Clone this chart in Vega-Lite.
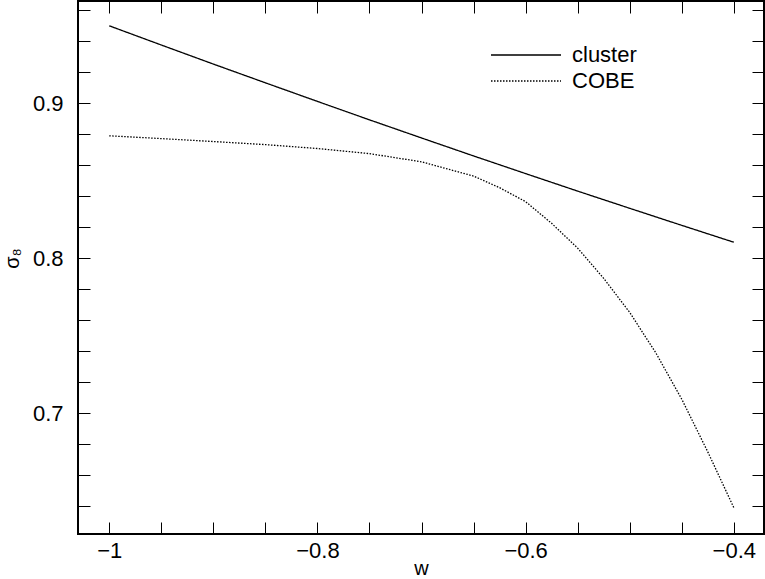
{
  "$schema": "https://vega.github.io/schema/vega-lite/v6.json",
  "width": 686,
  "height": 533,
  "autosize": "none",
  "padding": {"left": 78, "top": 1, "right": 1, "bottom": 45},
  "background": "white",
  "config": {
    "view": {"stroke": "black", "strokeWidth": 2},
    "font": "Liberation Sans",
    "axis": {
      "domain": false,
      "grid": false,
      "tickColor": "black",
      "tickWidth": 1,
      "labelColor": "black",
      "labelFontSize": 22,
      "labelFont": "Liberation Sans",
      "titleFont": "Liberation Sans",
      "titleFontSize": 20,
      "titleFontWeight": "normal",
      "titleColor": "black"
    }
  },
  "data": {
    "values": [
      {"w": -1.0, "s8": 0.950, "series": "cluster"},
      {"w": -0.95, "s8": 0.9376, "series": "cluster"},
      {"w": -0.9, "s8": 0.9253, "series": "cluster"},
      {"w": -0.85, "s8": 0.9132, "series": "cluster"},
      {"w": -0.8, "s8": 0.9012, "series": "cluster"},
      {"w": -0.75, "s8": 0.8893, "series": "cluster"},
      {"w": -0.7, "s8": 0.8776, "series": "cluster"},
      {"w": -0.65, "s8": 0.8660, "series": "cluster"},
      {"w": -0.6, "s8": 0.8546, "series": "cluster"},
      {"w": -0.55, "s8": 0.8433, "series": "cluster"},
      {"w": -0.5, "s8": 0.8322, "series": "cluster"},
      {"w": -0.45, "s8": 0.8212, "series": "cluster"},
      {"w": -0.4, "s8": 0.8103, "series": "cluster"},
      {"w": -1.0, "s8": 0.879, "series": "COBE"},
      {"w": -0.95, "s8": 0.8772, "series": "COBE"},
      {"w": -0.9, "s8": 0.8753, "series": "COBE"},
      {"w": -0.85, "s8": 0.8733, "series": "COBE"},
      {"w": -0.8, "s8": 0.8708, "series": "COBE"},
      {"w": -0.75, "s8": 0.8675, "series": "COBE"},
      {"w": -0.7, "s8": 0.8622, "series": "COBE"},
      {"w": -0.65, "s8": 0.8530, "series": "COBE"},
      {"w": -0.625, "s8": 0.8455, "series": "COBE"},
      {"w": -0.6, "s8": 0.8365, "series": "COBE"},
      {"w": -0.575, "s8": 0.8225, "series": "COBE"},
      {"w": -0.55, "s8": 0.8065, "series": "COBE"},
      {"w": -0.525, "s8": 0.7870, "series": "COBE"},
      {"w": -0.5, "s8": 0.7650, "series": "COBE"},
      {"w": -0.475, "s8": 0.7390, "series": "COBE"},
      {"w": -0.45, "s8": 0.7090, "series": "COBE"},
      {"w": -0.425, "s8": 0.6750, "series": "COBE"},
      {"w": -0.4, "s8": 0.6390, "series": "COBE"}
    ]
  },
  "layer": [
    {
      "mark": {"type": "line", "color": "black", "strokeWidth": 1.3},
      "encoding": {
        "x": {
          "field": "w",
          "type": "quantitative",
          "scale": {"domain": [-1.03, -0.371], "nice": false, "zero": false},
          "axis": {
            "orient": "bottom",
            "title": "w",
            "values": [-1, -0.95, -0.9, -0.85, -0.8, -0.75, -0.7, -0.65, -0.6, -0.55, -0.5, -0.45, -0.4],
            "format": ".1~f",
            "labelExpr": "abs(datum.value*5-round(datum.value*5))<1e-6 ? datum.label : ''",
            "tickSize": -12,
            "labelPadding": 18,
            "titlePadding": -3,
            "labelFlush": false,
            "labelOverlap": false,
            "encode": {"ticks": {"update": {"y2": {"signal": "abs(datum.value*5-round(datum.value*5))<1e-6 ? -12 : -5"}}}}
          }
        },
        "y": {
          "field": "s8",
          "type": "quantitative",
          "scale": {"domain": [0.622, 0.966], "nice": false, "zero": false},
          "axis": {
            "orient": "left",
            "title": "σ₈",
            "titleY": 257,
            "values": [0.64, 0.66, 0.68, 0.7, 0.72, 0.74, 0.76, 0.78, 0.8, 0.82, 0.84, 0.86, 0.88, 0.9, 0.92, 0.94, 0.96],
            "format": ".1f",
            "labelExpr": "abs(datum.value*10-round(datum.value*10))<1e-6 ? datum.label : ''",
            "tickSize": -12,
            "labelPadding": 27,
            "titlePadding": 10,
            "labelFlush": false,
            "labelOverlap": false,
            "encode": {"ticks": {"update": {"x2": {"signal": "abs(datum.value*10-round(datum.value*10))<1e-6 ? 12 : 5"}}}}
          }
        },
        "strokeDash": {
          "field": "series",
          "type": "nominal",
          "scale": {"domain": ["cluster", "COBE"], "range": [[1, 0], [1.5, 1.5]]},
          "legend": {
            "orient": "none",
            "legendX": 412,
            "legendY": 43,
            "title": null,
            "symbolType": "stroke",
            "symbolSize": 4900,
            "symbolStrokeColor": "black",
            "symbolStrokeWidth": 1.3,
            "clipHeight": 22,
            "labelFontSize": 22,
            "labelFont": "Liberation Sans",
            "labelColor": "black",
            "labelOffset": 10,
            "rowPadding": 4,
            "padding": 0
          }
        }
      }
    },
    {
      "mark": {"type": "line", "opacity": 0},
      "encoding": {
        "x": {
          "field": "w",
          "type": "quantitative",
          "axis": {
            "orient": "top",
            "title": null,
            "labels": false,
            "values": [-1, -0.95, -0.9, -0.85, -0.8, -0.75, -0.7, -0.65, -0.6, -0.55, -0.5, -0.45, -0.4],
            "tickSize": -12,
            "encode": {"ticks": {"update": {"y2": {"signal": "abs(datum.value*5-round(datum.value*5))<1e-6 ? 12 : 5"}}}}
          }
        },
        "y": {
          "field": "s8",
          "type": "quantitative",
          "axis": {
            "orient": "right",
            "title": null,
            "labels": false,
            "values": [0.64, 0.66, 0.68, 0.7, 0.72, 0.74, 0.76, 0.78, 0.8, 0.82, 0.84, 0.86, 0.88, 0.9, 0.92, 0.94, 0.96],
            "tickSize": -12,
            "encode": {"ticks": {"update": {"x2": {"signal": "abs(datum.value*10-round(datum.value*10))<1e-6 ? -12 : -5"}}}}
          }
        },
        "detail": {"field": "series", "type": "nominal"}
      }
    }
  ],
  "resolve": {"axis": {"x": "independent", "y": "independent"}}
}
